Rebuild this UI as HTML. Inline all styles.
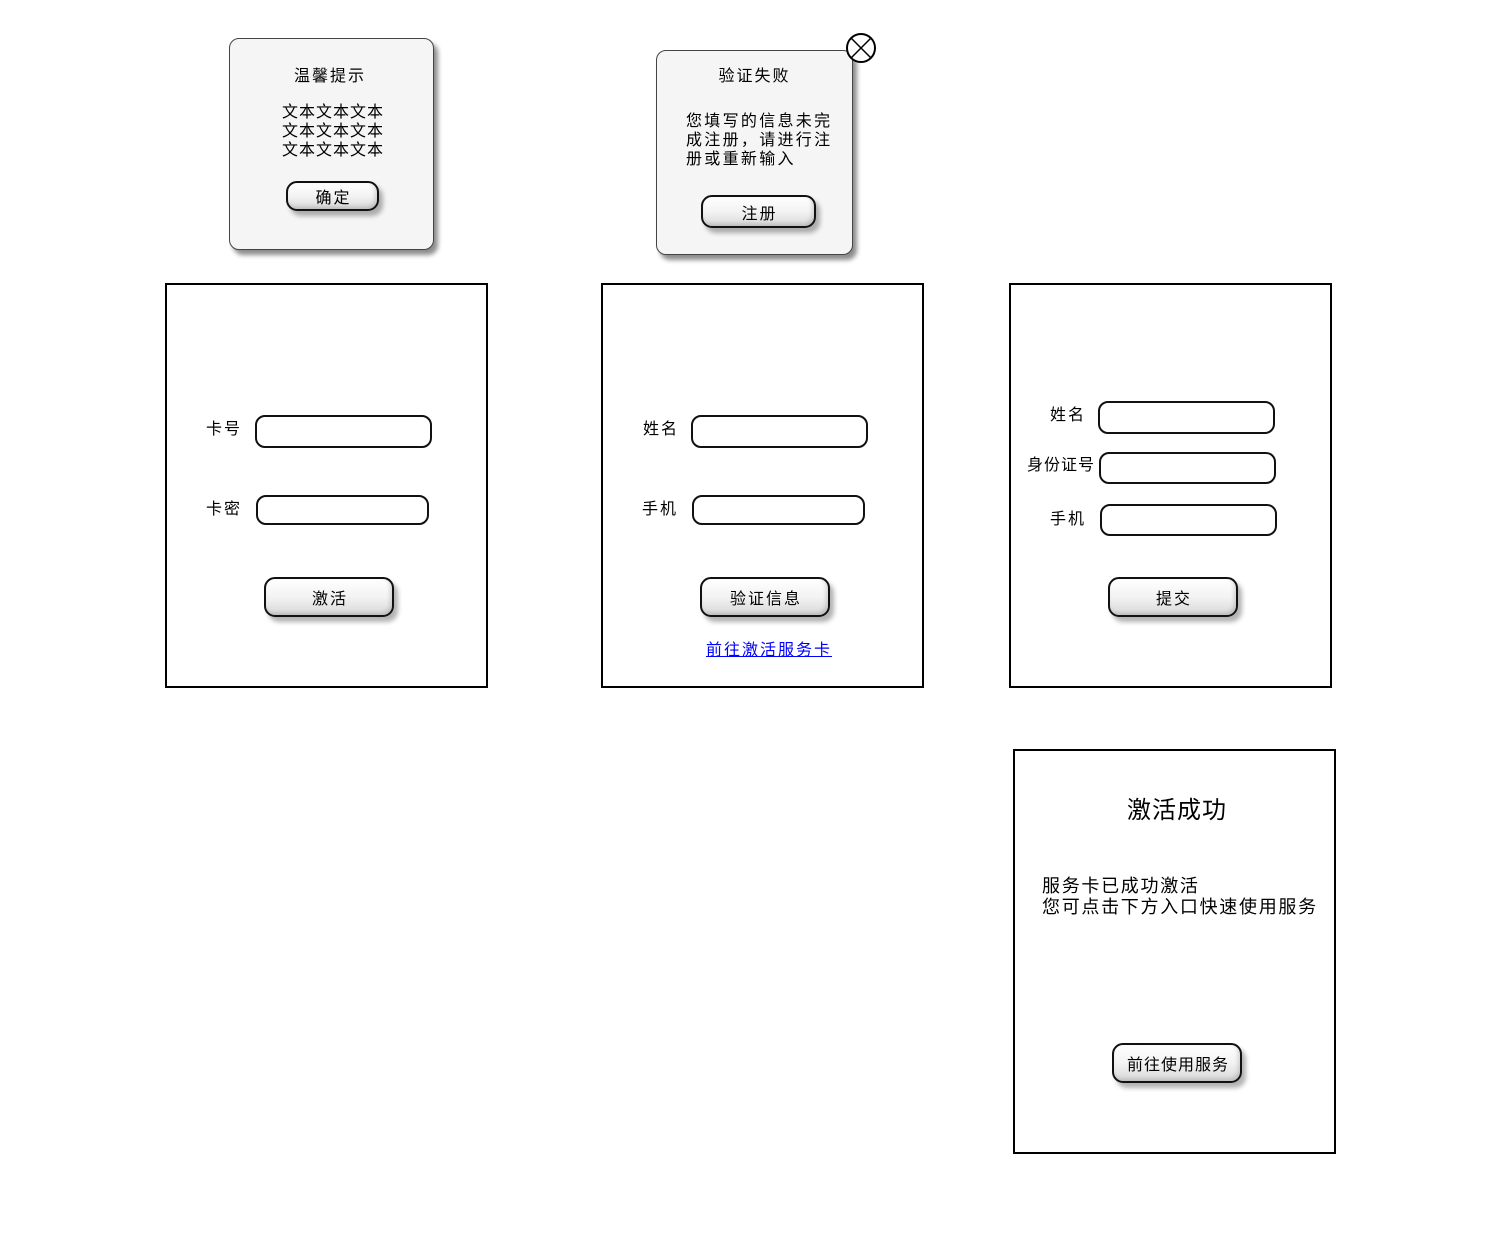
<!DOCTYPE html>
<html><head><meta charset="utf-8"><style>
body{margin:0;width:1501px;height:1237px;background:#fff;position:relative;overflow:hidden;font-family:"Liberation Sans","Noto Sans CJK SC",sans-serif;color:#000;letter-spacing:2px}
.a{position:absolute;box-sizing:border-box}
.panel{border:2px solid #000;background:#fff}
.dlg{background:#f5f5f5;border:1px solid #444;border-radius:10px;box-shadow:4px 5px 5px rgba(0,0,0,.45)}
.btn{border:2px solid #111;border-radius:11px;background:linear-gradient(#fff,#f3f3f3 50%,#d8d8d8);box-shadow:4px 5px 5px rgba(0,0,0,.3), inset -2px -2px 4px rgba(0,0,0,.15);display:flex;align-items:center;justify-content:center;font-size:16px;padding-left:2px}
.in{border:2px solid #111;border-radius:10px;background:#fff}
.lb{font-size:16px;white-space:nowrap;line-height:20px}
.t{white-space:nowrap;text-align:center}
</style></head><body>

<div class="a dlg" style="left:229px;top:38px;width:205px;height:212px"></div>
<div class="a t" style="left:229px;top:67px;width:202px;font-size:16px;line-height:20px">温馨提示</div>
<div class="a t" style="left:229px;top:103px;width:208px;font-size:16px;line-height:19px;letter-spacing:1px">文本文本文本<br>文本文本文本<br>文本文本文本</div>
<div class="a btn" style="left:286px;top:181px;width:93px;height:30px">确定</div>

<div class="a dlg" style="left:656px;top:50px;width:197px;height:205px"></div>
<div class="a t" style="left:656px;top:67px;width:197px;font-size:16px;line-height:20px">验证失败</div>
<div class="a" style="left:686px;top:112px;width:150px;font-size:16px;line-height:19px;letter-spacing:2.3px">您填写的信息未完<br>成注册，请进行注<br>册或重新输入</div>
<div class="a btn" style="left:701px;top:195px;width:115px;height:33px">注册</div>
<svg class="a" style="left:845px;top:33px" width="32" height="32"><circle cx="16" cy="15" r="14" fill="#fff" stroke="#000" stroke-width="2"/><path d="M6 5L26 25M26 5L6 25" stroke="#000" stroke-width="1.5"/></svg>

<div class="a panel" style="left:165px;top:283px;width:323px;height:405px"></div>
<div class="a lb" style="left:206px;top:420px">卡号</div>
<div class="a in" style="left:255px;top:415px;width:177px;height:33px"></div>
<div class="a lb" style="left:206px;top:500px">卡密</div>
<div class="a in" style="left:256px;top:495px;width:173px;height:30px"></div>
<div class="a btn" style="left:264px;top:577px;width:130px;height:40px">激活</div>

<div class="a panel" style="left:601px;top:283px;width:323px;height:405px"></div>
<div class="a lb" style="left:643px;top:420px">姓名</div>
<div class="a in" style="left:691px;top:415px;width:177px;height:33px"></div>
<div class="a lb" style="left:642px;top:500px">手机</div>
<div class="a in" style="left:692px;top:495px;width:173px;height:30px"></div>
<div class="a btn" style="left:700px;top:577px;width:130px;height:40px">验证信息</div>
<div class="a" style="left:706px;top:636px;font-size:16px;color:#00f;text-decoration:underline;white-space:nowrap">前往激活服务卡</div>

<div class="a panel" style="left:1009px;top:283px;width:323px;height:405px"></div>
<div class="a lb" style="left:1050px;top:406px">姓名</div>
<div class="a in" style="left:1098px;top:401px;width:177px;height:33px"></div>
<div class="a lb" style="left:1027px;top:456px;letter-spacing:1px">身份证号</div>
<div class="a in" style="left:1099px;top:452px;width:177px;height:32px"></div>
<div class="a lb" style="left:1050px;top:510px">手机</div>
<div class="a in" style="left:1100px;top:504px;width:177px;height:32px"></div>
<div class="a btn" style="left:1108px;top:577px;width:130px;height:40px">提交</div>

<div class="a panel" style="left:1013px;top:749px;width:323px;height:405px"></div>
<div class="a" style="left:1127px;top:797px;font-size:24px;line-height:28px;white-space:nowrap;letter-spacing:1px">激活成功</div>
<div class="a" style="left:1042px;top:876px;font-size:18px;line-height:21px;white-space:nowrap;letter-spacing:1.7px">服务卡已成功激活<br>您可点击下方入口快速使用服务</div>
<div class="a btn" style="left:1112px;top:1043px;width:130px;height:40px;letter-spacing:1px">前往使用服务</div>

</body></html>
